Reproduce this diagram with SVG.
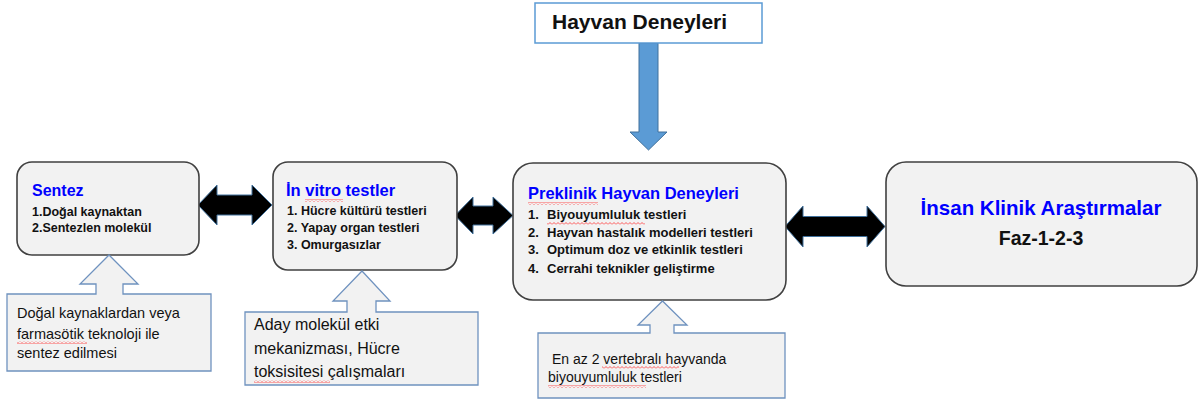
<svg xmlns="http://www.w3.org/2000/svg" width="1199" height="405" viewBox="0 0 1199 405">
<style>
.box{fill:#f2f2f2;stroke:#404040;stroke-width:1.6}
.call{fill:#f2f2f2;stroke:#6f92bf;stroke-width:1.3}
.dbl{fill:#000;stroke:#41719c;stroke-width:1}
.t{font-family:"Liberation Sans",Arial,sans-serif;fill:#111}
.b{font-weight:bold}
.blue{fill:#0000ff}
.wavy{fill:url(#wavy)}
</style>
<defs>
<pattern id="wavy" width="4" height="3" patternUnits="userSpaceOnUse">
<path d="M0,2.5 L2,0.5 L4,2.5" fill="none" stroke="#ff3030" stroke-width="0.8"/>
</pattern>
</defs>
<rect width="1199" height="405" fill="#fff"/>

<g id="connectors">
<polygon class="dbl" points="198,205 217,185 217,195 252,195 252,185 272,205 252,225 252,215 217,215 217,225"/>
<polygon class="dbl" points="455,215.5 473,197 473,206 493,206 493,197 513,215.5 493,234 493,225 473,225 473,234"/>
<polygon class="dbl" points="785,226.5 803,206 803,216.5 867,216.5 867,206 885,226.5 867,247 867,236.5 803,236.5 803,247"/>
<path d="M639,43 H658 V132 H667 L648.5,150 L630,132 H639 Z" fill="#5b9bd5" stroke="#41719c" stroke-width="1"/>
</g>

<g id="hayvan-deneyleri">
<rect x="535" y="3" width="227" height="40" fill="#fff" stroke="#5b9bd5" stroke-width="1.5"/>
<text class="t b" x="552" y="29" font-size="21">Hayvan Deneyleri</text>
</g>

<g id="sentez">
<rect class="box" x="17" y="162" width="182" height="93" rx="15"/>
<text class="t b blue" x="32" y="196" font-size="16">Sentez</text>
<text class="t b" x="32" y="216" font-size="12.5">1.Doğal kaynaktan</text>
<text class="t b" x="32" y="232" font-size="12.5">2.Sentezlen molekül</text>
</g>

<g id="in-vitro">
<rect class="box" x="273" y="162" width="184" height="108" rx="15"/>
<text class="t b blue" x="286" y="196" font-size="16.5">İn vitro testler</text>
<rect class="wavy" x="305" y="199" width="38" height="3"/>
<text class="t b" x="287" y="215" font-size="12.5">1. Hücre kültürü testleri</text>
<text class="t b" x="287" y="232" font-size="12.5">2. Yapay organ testleri</text>
<text class="t b" x="287" y="249" font-size="12.5">3. Omurgasızlar</text>
</g>

<g id="preklinik">
<rect class="box" x="513" y="163" width="273" height="137" rx="20"/>
<text class="t b blue" x="528" y="199" font-size="16.5">Preklinik Hayvan Deneyleri</text>
<rect class="wavy" x="528" y="202" width="70" height="3"/>
<text class="t b" font-size="13"><tspan x="528" y="219">1.</tspan><tspan x="547" y="219">Biyouyumluluk testleri</tspan></text>
<rect class="wavy" x="547" y="222" width="98" height="3"/>
<text class="t b" font-size="13"><tspan x="528" y="237">2.</tspan><tspan x="547" y="237">Hayvan hastalık modelleri testleri</tspan></text>
<text class="t b" font-size="13"><tspan x="528" y="254">3.</tspan><tspan x="547" y="254">Optimum doz ve etkinlik testleri</tspan></text>
<text class="t b" font-size="13"><tspan x="528" y="273">4.</tspan><tspan x="547" y="273">Cerrahi teknikler geliştirme</tspan></text>
</g>

<g id="insan-klinik">
<rect class="box" x="886" y="162" width="311" height="124" rx="20"/>
<text class="t b blue" x="1041" y="215" font-size="20.5" text-anchor="middle">İnsan Klinik Araştırmalar</text>
<text class="t b" x="1041" y="245" font-size="19.5" text-anchor="middle">Faz-1-2-3</text>
</g>

<g id="callout-sentez">
<path class="call" d="M7,294 H96 V284 H80 L109,255 L138,284 H123 V294 H211 V371 H7 Z"/>
<text class="t" x="17" y="318" font-size="14.5">Doğal kaynaklardan veya</text>
<text class="t" x="17" y="339" font-size="14.5">farmasötik teknoloji ile</text>
<rect class="wavy" x="17" y="341" width="70" height="3"/>
<text class="t" x="17" y="358" font-size="14.5">sentez edilmesi</text>
</g>

<g id="callout-invitro">
<path class="call" d="M245,312 H347 V301 H333 L362,271 L390,301 H376 V312 H478 V385 H245 Z"/>
<text class="t" x="254" y="330" font-size="16">Aday molekül etki</text>
<text class="t" x="254" y="354" font-size="16">mekanizması, Hücre</text>
<text class="t" x="254" y="377" font-size="16">toksisitesi çalışmaları</text>
<rect class="wavy" x="254" y="380" width="76" height="3"/>
</g>

<g id="callout-preklinik">
<path class="call" d="M538,333 H650 V325 H638 L662.5,301 L687,325 H674 V333 H785 V398 H538 Z"/>
<text class="t" x="552" y="364" font-size="14">En az 2 vertebralı hayvanda</text>
<rect class="wavy" x="602" y="366" width="77" height="3"/>
<text class="t" x="548" y="382" font-size="14">biyouyumluluk testleri</text>
<rect class="wavy" x="548" y="385" width="98" height="3"/>
</g>
</svg>
